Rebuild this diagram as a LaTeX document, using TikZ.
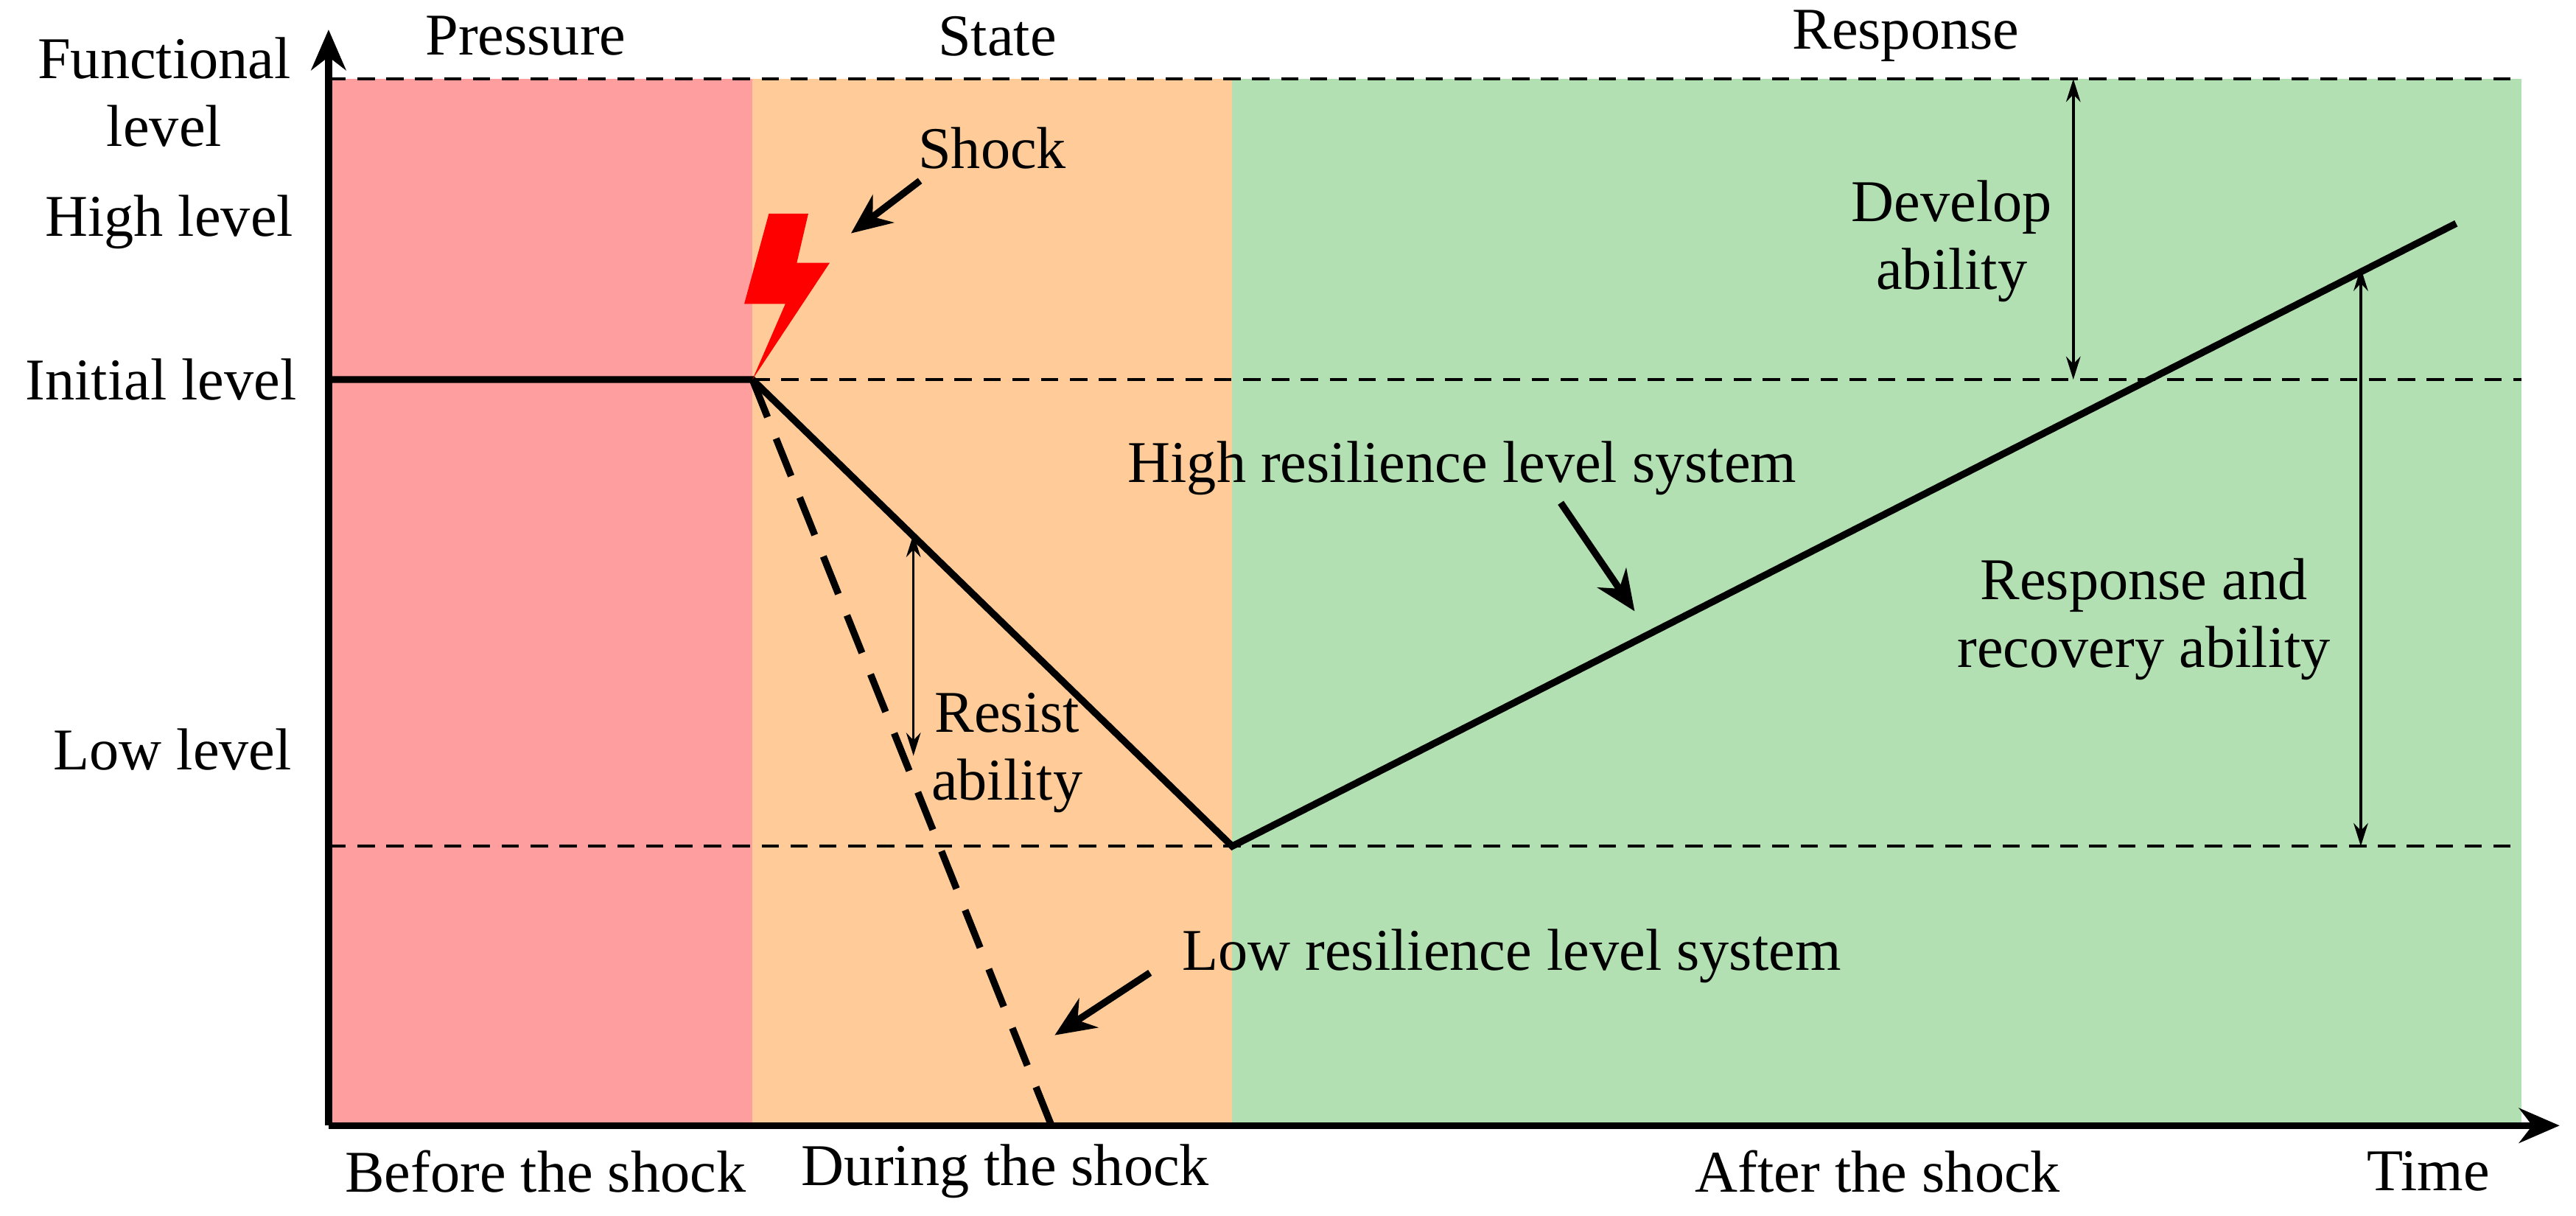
\documentclass[tikz,border=0pt]{standalone}
\usepackage{fontspec}
\setmainfont{Liberation Serif}
\usetikzlibrary{arrows.meta}
\begin{document}
\begin{tikzpicture}[x=0.02cm,y=-0.02cm,font=\fontsize{20.5}{23.5}\selectfont,
    lbl/.style={align=center,inner sep=1pt},
    guide/.style={dashed,line width=0.9pt,dash pattern=on 6pt off 4pt},
    curve/.style={line width=2.4pt},
    pointer/.style={-{Stealth[length=14pt,width=12pt]},line width=2.4pt},
    span/.style={{Stealth[length=8pt,width=5pt]}-{Stealth[length=8pt,width=5pt]},line width=0.9pt}]

      \useasboundingbox (0,0) rectangle (1568,740);
      \fill [red!38!white] (200,48) rectangle (458,685);
      \fill [orange!40!white] (458,48) rectangle (750,685);
      \fill [green!60!black!30!white] (750,48) rectangle (1535,685);

      % guides
      \draw [guide] (200,48) -- (1535,48);
      \draw [guide] (458,231) -- (1535,231);
      \draw [guide] (200,515) -- (1535,515);

      % axes
      \coordinate (o) at (200,685);
      \coordinate (ytip) at (200,18);
      \coordinate (xtip) at (1558,685);
      \draw [pointer] (o) -- (ytip);
      \draw [pointer] (o) -- (xtip);

      % curves
      \coordinate (start) at (200,231);
      \coordinate (hit) at (458,231);
      \coordinate (bottom) at (750,515);
      \coordinate (peak) at (1495,136);
      \coordinate (fall) at (640,685);
      \draw [curve] (start) -- (hit) -- (bottom) -- (peak);
      \draw [curve,dash pattern=on 14pt off 8pt] (hit) -- (fall);

      % shock
      \fill [red] (458,231) -- (478,185) -- (453,185) -- (468,130)
        -- (492,130) -- (485,160) -- (505,160) -- cycle;
      \node [lbl] (shock) at (604,90) {Shock};
      \coordinate (shockend) at (518,142);
      \draw [pointer] (560,110) -- (shockend);

      % levels
      \node [lbl] (func) at (100,56) {Functional\\level};
      \node [lbl] (high) at (103,135) {High level};
      \node [lbl] (init) at (98,231) {Initial level};
      \node [lbl] (low) at (105,456) {Low level};

      % phases
      \node [lbl] (pressure) at (320,22) {Pressure};
      \node [lbl] (state) at (607,22) {State};
      \node [lbl] (response) at (1160,22) {Response};
      \node [lbl] (before) at (332,713) {Before the shock};
      \node [lbl] (during) at (612,713) {During the shock};
      \node [lbl] (after) at (1143,713) {After the shock};
      \node [lbl] (time) at (1478,713) {Time};

      % systems
      \node [lbl] (highsys) at (890,285) {High resilience level system};
      \coordinate (highend) at (995,372);
      \draw [pointer] (950,306) -- (highend);
      \node [lbl] (lowsys) at (920,582) {Low resilience level system};
      \coordinate (lowend) at (642,630);
      \draw [pointer] (700,592) -- (lowend);

      % abilities
      \coordinate (d1) at (1262,48);
      \coordinate (d2) at (1262,231);
      \draw [span] (d1) -- (d2);
      \node [lbl] (develop) at (1188,147) {Develop\\ability};
      \coordinate (r1) at (1437,163);
      \coordinate (r2) at (1437,515);
      \draw [span] (r1) -- (r2);
      \node [lbl] (recover) at (1305,377) {Response and\\recovery ability};
      \coordinate (s1) at (556,325);
      \coordinate (s2) at (556,460);
      \draw [span] (s1) -- (s2);
      \node [lbl] (resist) at (613,458) {Resist\\ability};

    \end{tikzpicture}
\end{document}
